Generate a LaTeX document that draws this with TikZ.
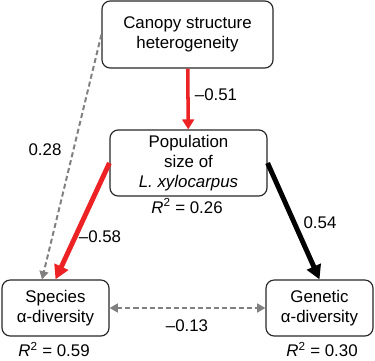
\documentclass[tikz,border=0pt]{standalone}
\usepackage{fontspec}
\setmainfont{Liberation Sans}
\usetikzlibrary{arrows.meta,calc}
\definecolor{negred}{RGB}{237,34,36}
\definecolor{nsgray}{RGB}{128,128,128}

\begin{document}
\begin{tikzpicture}[x=0.03cm,y=-0.03cm,font=\fontsize{14.4}{17}\selectfont,
      box/.style={draw=black!85,line width=1pt,rounded corners=7pt,align=center,inner sep=0pt},
      negpath/.style={draw=negred,line width=4.2pt,-{Triangle[length=12pt,width=12.5pt]}},
      pospath/.style={draw=black,line width=4.2pt,-{Triangle[length=12pt,width=12.5pt]}},
      nspath/.style={draw=nsgray,line width=1.7pt,dash pattern=on 4.3pt off 2.6pt,
        -{Triangle[length=7pt,width=7.5pt]}}]
      \useasboundingbox (0,0) rectangle (375,360);

      \node[box,minimum width=5.13cm,minimum height=2.01cm] (canopy) at (187.5,34.5)
        {Canopy structure\\heterogeneity};
      \node[box,minimum width=4.71cm,minimum height=1.98cm] (popsize) at (188.5,163)
        {Population\\size of\\\textit{L. xylocarpus}};
      \node[box,minimum width=3.21cm,minimum height=1.68cm] (species) at (55.5,308)
        {Species\\α-diversity};
      \node[box,minimum width=3.21cm,minimum height=1.68cm] (genetic) at (319.5,308)
        {Genetic\\α-diversity};

      \node (r2pop) at (187,206) {\textit{R}\textsuperscript{2} = 0.26};
      \node (r2species) at (54,349.5) {\textit{R}\textsuperscript{2} = 0.59};
      \node (r2genetic) at (322,349.5) {\textit{R}\textsuperscript{2} = 0.30};

      \draw[negpath,line width=3pt,-{Triangle[length=8.5pt,width=10pt]}] (canopy) -- (popsize);
      \draw[negpath] (popsize.west) -- (species.north);
      \draw[pospath] (popsize.east) -- (genetic.north);
      \draw[nspath] (canopy.west) -- ($(species.north)+(-13.5,0)$);
      \draw[nspath,{Triangle[length=7pt,width=7.5pt]}-{Triangle[length=7pt,width=7.5pt]}]
        (species) -- (genetic);

      \node (w51) at (216,95) {–0.51};
      \node (w28) at (45,150) {0.28};
      \node (w58) at (100,237) {–0.58};
      \node (w54) at (320,223) {0.54};
      \node (w13) at (187,326) {–0.13};
\end{tikzpicture}
\end{document}
